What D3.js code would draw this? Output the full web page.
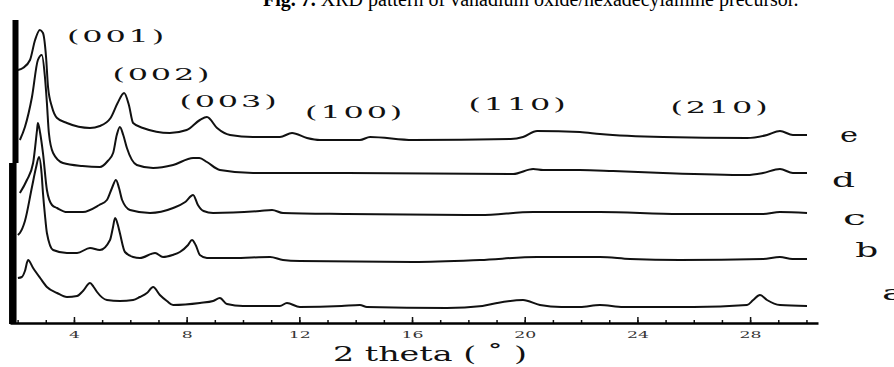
<!DOCTYPE html>
<html>
<head>
<meta charset="utf-8">
<script src="https://cdn.jsdelivr.net/npm/d3@7"></script>
<style>
  body { margin: 0; background: #fff; }
</style>
</head>
<body>
<div id="fig7"></div>
<script>
// 2 theta (deg) vs stacked intensity (a.u.)
var curveA = [[2.01,45],[2.15,46],[2.26,52],[2.37,63],[2.55,55],[2.80,45],[3.04,36],[3.40,30],[3.75,26],[4.11,27],[4.32,32],[4.57,40],[4.70,36],[4.82,31],[5.17,23],[5.63,22],[6.10,23],[6.34,26],[6.59,30],[6.81,36],[7.05,28],[7.30,22],[7.52,18],[8.47,20],[8.94,22],[9.18,25],[9.43,19],[10.0,17],[10.85,17],[11.31,17],[11.56,20],[12.02,16],[13.5,17],[14.15,18],[14.40,16],[17.24,15],[18.5,17],[19.02,20],[19.94,23],[20.54,18],[21.3,16],[21.96,16],[22.67,18],[23.5,16],[24.34,16],[26.0,16],[27.89,18],[28.11,23],[28.35,28],[28.60,23],[29.06,18],[30.02,17]];
var curveB = [[2.01,88],[2.08,90],[2.26,102],[2.51,136],[2.65,155],[2.76,166],[2.85,150],[2.90,130],[2.97,108],[3.04,90],[3.26,73],[3.75,70],[4.11,70],[4.57,75],[4.92,73],[5.28,83],[5.38,95],[5.46,105],[5.56,98],[5.63,90],[5.81,71],[6.10,66],[6.34,65],[6.88,70],[7.16,66],[7.50,68],[7.76,71],[8.05,78],[8.19,83],[8.32,78],[8.47,68],[8.72,65],[9.65,65],[10.96,66],[11.42,63],[12.02,62],[16.03,61],[18.41,63],[20.44,66],[22.67,66],[23.74,64],[25.51,63],[28.46,64],[29.06,66],[29.5,64],[30.02,64]];
var curveC = [[2.08,130],[2.33,143],[2.55,160],[2.69,193],[2.72,200],[2.80,190],[2.90,170],[3.04,133],[3.22,118],[3.40,115],[3.75,111],[4.32,111],[4.9,118],[5.17,123],[5.35,135],[5.49,143],[5.60,135],[5.71,123],[5.99,113],[6.70,110],[7.52,115],[7.95,121],[8.23,128],[8.40,118],[8.60,112],[8.94,110],[10.60,112],[11.03,113],[11.42,110],[13.69,109],[18.41,108],[20.30,111],[22.67,111],[25.51,109],[28.46,109],[29.06,111],[30.02,110]];
var curveD = [[2.08,183],[2.26,196],[2.51,226],[2.72,263],[2.86,268],[2.97,246],[3.04,220],[3.11,190],[3.26,170],[3.61,160],[4.3,157],[4.92,156],[5.20,162],[5.39,170],[5.52,188],[5.63,196],[5.75,188],[5.88,175],[6.23,158],[6.81,155],[7.52,158],[8.23,165],[8.45,165],[8.72,161],[9.18,153],[10.36,150],[11.67,150],[13.69,150],[19.59,149],[20.30,154],[20.65,153],[21.96,153],[23.14,152],[24.91,150],[27.89,148],[28.46,150],[29.06,154],[29.52,150],[30.02,150]];
var curveE = [[2.01,253],[2.19,255],[2.44,263],[2.62,283],[2.79,293],[2.90,290],[3.01,266],[3.08,236],[3.22,216],[3.40,205],[3.75,200],[4.57,195],[4.92,197],[5.30,205],[5.55,220],[5.78,230],[5.95,218],[6.10,200],[6.45,195],[7.40,190],[8.0,193],[8.47,203],[8.72,206],[9.08,195],[9.54,188],[10.35,186],[11.31,186],[11.74,190],[12.27,185],[12.73,183],[14.15,183],[14.51,186],[16.03,183],[19.5,184],[19.94,186],[20.44,192],[21.96,191],[22.67,189],[24.91,186],[27.89,185],[28.60,188],[29.06,192],[29.52,188],[30.02,188]];

var seriesNames = ["a", "b", "c", "d", "e"];
// where each series letter sits (2 theta, level)
var seriesLabelTheta = [32.68, 31.73, 31.30, 30.91, 31.19];
var seriesLabelLevel = [23, 66, 98, 136, 181];

var hklLabels = ["(001)", "(002)", "(003)", "(100)", "(110)", "(210)"];
var hklTheta = [5.53, 7.14, 9.52, 13.98, 19.78, 26.95];
var hklLevel = [281, 243, 216, 205, 213, 210];

var majorTicks = [4, 8, 12, 16, 20, 24, 28];
var minorTicks = d3.range(2, 31);

var width = 894, height = 367;

var svg = d3.select("#fig7")
    .append("svg")
    .attr("width", width)
    .attr("height", height)
    .style("display", "block");

var x = d3.scaleLinear().domain([1.73, 30.41]).range([10, 818]);
var y = d3.scaleLinear().domain([0, 303]).range([323, 20]);

// caption, cut off at the top of the crop
var title = svg.append("text")
    .attr("x", 263)
    .attr("y", 6)
    .style("font-family", "'Liberation Serif', 'Times New Roman', serif")
    .style("font-size", "20px")
    .attr("fill", "#000");
title.append("tspan").style("font-weight", "bold").text("Fig. 7.");
title.append("tspan").text(" XRD pattern of vanadium oxide/hexadecylamine precursor.");

// minor ticks
svg.append("g")
    .attr("transform", "translate(0," + y(0) + ")")
    .call(d3.axisBottom(x).tickValues(minorTicks).tickSize(-3).tickSizeOuter(0).tickFormat(""))
    .call(g => g.select(".domain").remove())
    .selectAll("line").attr("stroke", "#111").attr("stroke-width", 1.5);

// main x axis
var xAxis = svg.append("g")
    .attr("transform", "translate(0," + y(0) + ")")
    .call(d3.axisBottom(x).tickValues(majorTicks).tickSize(-6).tickSizeOuter(0).tickPadding(8));
xAxis.select(".domain").attr("stroke", "#000").attr("stroke-width", 2.5);
xAxis.selectAll("line").attr("stroke", "#111").attr("stroke-width", 1.5);
xAxis.selectAll("text")
    .attr("font-family", "'DejaVu Serif', serif")
    .attr("font-size", 10)
    .attr("fill", "#333")
    .attr("textLength", d => String(d).length * 11)
    .attr("lengthAdjust", "spacingAndGlyphs");

svg.append("text")
    .attr("x", 430)
    .attr("y", 361)
    .attr("text-anchor", "middle")
    .attr("font-family", "'DejaVu Serif', serif")
    .attr("font-size", 21)
    .attr("fill", "#111")
    .attr("textLength", 194)
    .attr("lengthAdjust", "spacingAndGlyphs")
    .text("2 theta ( \u02DA )");

// thick left bar (scanned in two pieces)
svg.append("line")
    .attr("x1", x.range()[0] + 5.5).attr("x2", x.range()[0] + 5.5)
    .attr("y1", y.range()[1]).attr("y2", 163)
    .attr("stroke", "#000").attr("stroke-width", 6);
svg.append("line")
    .attr("x1", x.range()[0] + 2.8).attr("x2", x.range()[0] + 2.8)
    .attr("y1", 163).attr("y2", y(0) + 1)
    .attr("stroke", "#000").attr("stroke-width", 7.5);

var line = d3.line()
    .x(d => x(d[0]))
    .y(d => y(d[1]))
    .curve(d3.curveMonotoneX);

var curves = [curveA, curveB, curveC, curveD, curveE];

svg.selectAll(".xrd")
    .data(curves)
    .enter()
    .append("path")
    .attr("class", "xrd")
    .attr("d", line)
    .attr("fill", "none")
    .attr("stroke", "#111")
    .attr("stroke-width", 2)
    .attr("stroke-linejoin", "round");

svg.selectAll(".hkl")
    .data(hklLabels)
    .enter()
    .append("text")
    .attr("class", "hkl")
    .attr("x", (d, i) => x(hklTheta[i]))
    .attr("y", (d, i) => y(hklLevel[i]))
    .attr("text-anchor", "middle")
    .attr("font-family", "'DejaVu Serif', serif")
    .attr("font-size", 17)
    .attr("letter-spacing", 1.5)
    .attr("fill", "#111")
    .attr("textLength", 100)
    .attr("lengthAdjust", "spacingAndGlyphs")
    .text(d => d);

svg.selectAll(".sname")
    .data(seriesNames)
    .enter()
    .append("text")
    .attr("class", "sname")
    .attr("x", (d, i) => x(seriesLabelTheta[i]))
    .attr("y", (d, i) => y(seriesLabelLevel[i]))
    .attr("font-family", "'DejaVu Serif', serif")
    .attr("font-size", 20)
    .attr("fill", "#111")
    .attr("textLength", d => d === "e" ? 18 : 23)
    .attr("lengthAdjust", "spacingAndGlyphs")
    .text(d => d);
</script>
</body>
</html>
